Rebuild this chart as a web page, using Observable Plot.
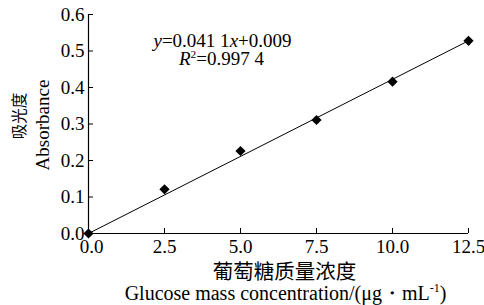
<!DOCTYPE html>
<html>
<head>
<meta charset="utf-8">
<script src="https://cdn.jsdelivr.net/npm/d3@7"></script>
<script src="https://cdn.jsdelivr.net/npm/@observablehq/plot@0.6"></script>
<style>
  html, body { margin: 0; padding: 0; background: #fff; }
  #chart svg { display: block; }
</style>
</head>
<body>
<div id="chart"></div>
<script>
// Data
const concentration = [0, 2.5, 5, 7.5, 10, 12.5];
const absorbance = [0.0, 0.121, 0.226, 0.311, 0.416, 0.528];
const fitX = [0, 12.5];
const fitY = [0.0, 0.528];
const xTicks = [0, 2.5, 5, 7.5, 10, 12.5];
const yTicks = [0, 0.1, 0.2, 0.3, 0.4, 0.5, 0.6];
const yLabelCn = "吸光度";
const yLabelEn = "Absorbance";
const xLabelCn = "葡萄糖质量浓度";
const xLabelEn = "Glucose mass concentration/(μg・mL-1)";
const equation = "y=0.041 1x+0.009";
const rSquared = "R2=0.997 4";

const points = concentration.map((c, i) => ({x: c, y: absorbance[i]}));
const fit = fitX.map((c, i) => ({x: c, y: fitY[i]}));

const serif = "Liberation Serif, Times New Roman, serif";
const cjk = "Noto Sans CJK SC, sans-serif";

const chart = Plot.plot({
  width: 484,
  height: 305,
  marginLeft: 88,
  marginRight: 16,
  marginTop: 14,
  marginBottom: 72,
  style: {fontFamily: serif, fontSize: "18px", color: "#000", background: "#fff"},
  x: {domain: [0, 12.5]},
  y: {domain: [0, 0.6]},
  marks: [
    Plot.axisX({ticks: xTicks.filter(d => d !== 0), tickFormat: d3.format(".1f"), tickSize: -5, tickPadding: 11, label: null, fontSize: 19, fontFamily: serif}),
    Plot.axisX({ticks: xTicks.filter(d => d === 0), tickFormat: d3.format(".1f"), tickSize: 0, tickPadding: 6, dx: 3, label: null, fontSize: 19, fontFamily: serif}),
    Plot.axisY({ticks: yTicks, tickFormat: d3.format(".1f"), tickSize: -5, tickPadding: 9, label: null, fontSize: 19, fontFamily: serif}),
    Plot.ruleX([0], {stroke: "#000", strokeWidth: 1.2}),
    Plot.ruleY([0], {stroke: "#000", strokeWidth: 1.2}),
    Plot.line(fit, {x: "x", y: "y", stroke: "#000", strokeWidth: 1}),
    Plot.dot(points, {x: "x", y: "y", symbol: "diamond2", r: 4.6, fill: "#000", stroke: "none"}),
    Plot.text([equation], {frameAnchor: "top-left", dx: 134, dy: 32, text: d => d, textAnchor: "middle", lineAnchor: "bottom", fontSize: 19, fontFamily: serif, className: "eq"}),
    Plot.text([rSquared], {frameAnchor: "top-left", dx: 133, dy: 50, text: d => d, textAnchor: "middle", lineAnchor: "bottom", fontSize: 19, fontFamily: serif, className: "r2"}),
    Plot.text([yLabelCn], {frameAnchor: "left", dx: -68, dy: -8, rotate: -90, text: d => d, fontFamily: cjk, fontSize: 15.5, textAnchor: "middle", lineAnchor: "middle"}),
    Plot.text([yLabelEn], {frameAnchor: "left", dx: -46, dy: 1, rotate: -90, text: d => d, fontFamily: serif, fontSize: 19, textAnchor: "middle", lineAnchor: "middle"}),
    Plot.text([xLabelCn], {frameAnchor: "bottom", dx: 6, dy: 45, text: d => d, fontFamily: cjk, fontSize: 20.5, lineAnchor: "bottom"}),
    Plot.text([xLabelEn], {frameAnchor: "bottom", dx: 7, dy: 66, text: d => d, fontFamily: serif, fontSize: 20, lineAnchor: "bottom", className: "xen"})
  ]
});

// rich text: italics and superscripts
const svg = d3.select(chart);
function rich(cls, parts) {
  const t = svg.select("." + cls + " text");
  t.text(null);
  for (const p of parts) {
    const ts = t.append("tspan").text(p.t);
    if (p.i) ts.attr("font-style", "italic");
    if (p.sup) ts.attr("font-size", "0.6em").attr("dy", "-0.6em");
    if (p.after) ts.attr("dy", "0.36em");
  }
}
rich("eq", [{t: "y", i: true}, {t: "=0.041 1"}, {t: "x", i: true}, {t: "+0.009"}]);
rich("r2", [{t: "R", i: true}, {t: "2", sup: true}, {t: "=0.997 4", after: true}]);
rich("xen", [{t: "Glucose mass concentration/(μg・mL"}, {t: "-1", sup: true}, {t: ")", after: true}]);

document.getElementById("chart").append(chart);
</script>
</body>
</html>
